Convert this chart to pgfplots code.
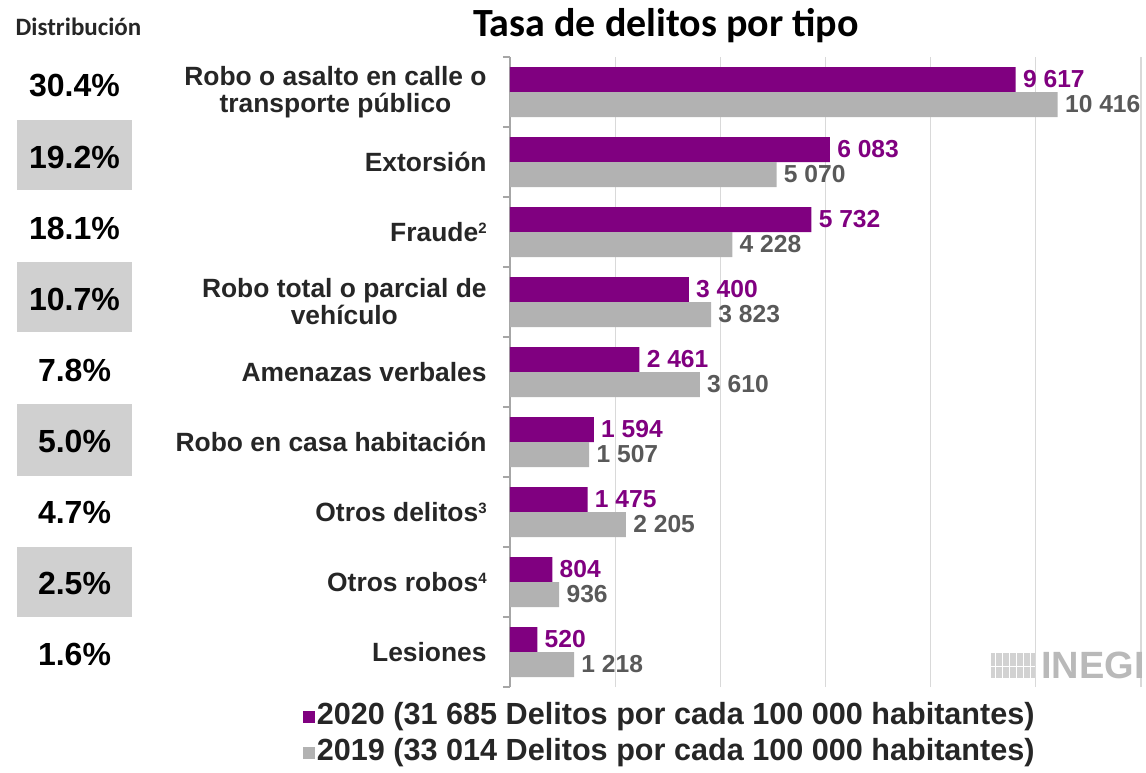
\documentclass[border=0pt]{standalone}
\usepackage{pgfplots}
\pgfplotsset{compat=1.18}
\usepackage{fontspec}
\setmainfont{Liberation Sans}
\newfontfamily\calibri{Carlito}
\definecolor{barpurple}{HTML}{800080}
\definecolor{bargray}{HTML}{B2B2B2}
\definecolor{labgray}{HTML}{595959}
\definecolor{gridgray}{HTML}{D9D9D9}
\definecolor{axisgray}{HTML}{A6A6A6}
\definecolor{boxgray}{HTML}{D0D0D0}
\definecolor{catblack}{HTML}{262626}
\newcommand{\supnum}[1]{\raisebox{4.2pt}{\fontsize{7.5}{7.5}\selectfont #1}}
\begin{document}
\begin{tikzpicture}
\begin{axis}[
  at={(0,0)}, anchor=south west,
  scale only axis, width=315.5pt, height=315pt,
  xmin=0, xmax=12000, ymin=-0.5, ymax=8.5,
  axis y line*=left, axis x line*=bottom,
  x axis line style={draw=none},
  y axis line style={draw=axisgray, line width=0.6pt},
  xtick={0,2000,...,12000}, xticklabels={}, scaled x ticks=false,
  xmajorgrids, grid style={draw=gridgray, line width=0.6pt},
  major x tick style={draw=none},
  ytick={0,...,8},
  yticklabels={Lesiones, Otros robos\supnum{4}, Otros delitos\supnum{3}, Robo en casa habitación, Amenazas verbales, {Robo total o parcial de\\vehículo}, Fraude\supnum{2}, Extorsión, {Robo o asalto en calle o\\transporte público}},
  major tick length=0pt,
  major y tick style={draw=none},
  minor ytick={-0.5,0.5,...,8.5},
  minor y tick style={draw=axisgray, line width=0.6pt},
  minor tick length=3.5pt,
  tick align=outside,
  yticklabel style={font=\fontsize{13.2}{13.5}\selectfont\bfseries, text=catblack, align=center, inner sep=0pt, xshift=-11.5pt},
  clip=false,
  legend style={at={(-0.328,-0.022)}, anchor=north west, draw=none, fill=none,
    font=\fontsize{15.3}{17}\selectfont\bfseries, text=catblack,
    legend cell align=left, row sep=2pt, inner sep=0pt,
    nodes={inner sep=0.75pt, text height=11pt, text depth=3.5pt}},
  legend image code/.code={\fill[#1] (0pt,-3pt) rectangle (6pt,3pt);},
]
\addplot[xbar, bar width=0.357, bar shift=0.1786, fill=barpurple, draw=none,
  nodes near coords, point meta=x,
  nodes near coords={\pgfmathprintnumber[1000 sep={\ }, assume math mode=true]{\pgfplotspointmeta}},
  nodes near coords style={anchor=west, inner sep=0pt, xshift=3.5pt, yshift=6.25pt, text=barpurple, font=\fontsize{12.3}{14}\selectfont\bfseries}]
  coordinates {(520,0) (804,1) (1475,2) (1594,3) (2461,4) (3400,5) (5732,6) (6083,7) (9617,8)};
\addlegendentry{2020 (31 685 Delitos por cada 100 000 habitantes)}
\addplot[xbar, bar width=0.357, bar shift=-0.1786, fill=bargray, draw=none,
  nodes near coords, point meta=x,
  nodes near coords={\pgfmathprintnumber[1000 sep={\ }, assume math mode=true]{\pgfplotspointmeta}},
  nodes near coords style={anchor=west, inner sep=0pt, xshift=3.5pt, yshift=-6.25pt, text=labgray, font=\fontsize{12.3}{14}\selectfont\bfseries}]
  coordinates {(1218,0) (936,1) (2205,2) (1507,3) (3610,4) (3823,5) (4228,6) (5070,7) (10416,8)};
\addlegendentry{2019 (33 014 Delitos por cada 100 000 habitantes)}
\end{axis}
% distribution column
\fill[boxgray] (-246.5pt,283.5pt) rectangle (-189pt,248.5pt);
\fill[boxgray] (-246.5pt,212.5pt) rectangle (-189pt,177.5pt);
\fill[boxgray] (-246.5pt,141.5pt) rectangle (-189pt,105.5pt);
\fill[boxgray] (-246.5pt,70pt) rectangle (-189pt,35pt);
\begin{scope}[every node/.style={font=\fontsize{16}{17}\selectfont\bfseries, text=black, inner sep=0pt}]
\node at (-217.75pt,300.5pt) {30.4\%};
\node at (-217.75pt,264.95pt) {19.2\%};
\node at (-217.75pt,229.4pt) {18.1\%};
\node at (-217.75pt,193.85pt) {10.7\%};
\node at (-217.75pt,158.3pt) {7.8\%};
\node at (-217.75pt,122.75pt) {5.0\%};
\node at (-217.75pt,87.2pt) {4.7\%};
\node at (-217.75pt,51.65pt) {2.5\%};
\node at (-217.75pt,16.1pt) {1.6\%};
\end{scope}
\node[anchor=base, font=\calibri\bfseries\fontsize{12.5}{14}\selectfont, text=catblack] at (-215.75pt,325.5pt) {Distribución};
\node[anchor=base, font=\calibri\bfseries\fontsize{20}{23}\selectfont, text=black] at (78pt,325pt) {Tasa de delitos por tipo};
% INEGI mark
\fill[gray!35] (240.5pt,4.5pt) rectangle (262.5pt,17pt);
\foreach \xx in {242.5,246,249.5,253,256.5,260}{\draw[white, line width=0.5pt] (\xx pt,4.5pt) -- (\xx pt,17pt);}
\draw[white, line width=0.5pt] (240.5pt,10.5pt) -- (262.5pt,10.5pt);
\node[anchor=base west, inner sep=0pt, font=\fontsize{19}{21}\selectfont\bfseries, text=gray!55] at (265.5pt,4.5pt) {INEGI};
\pgfresetboundingbox
\path (-255pt,-42.5pt) rectangle (318pt,343.5pt);
\end{tikzpicture}
\end{document}
